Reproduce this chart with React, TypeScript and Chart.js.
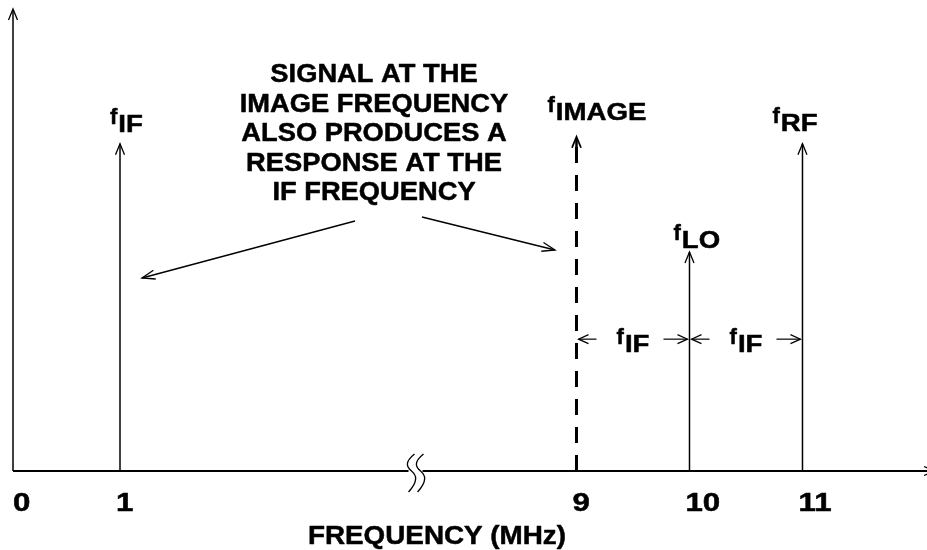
import React, { useEffect, useRef } from "react";
import { Chart, registerables } from "chart.js";
Chart.register(...registerables);

// ---- data ----
const spikeNames = ["IF", "IMAGE", "LO", "RF"];
const spikeFreqs = [1, 9, 10, 11]; // MHz
const spikeHeights = [7.1, 7.25, 4.75, 7.1];
const spikeDashed = [false, true, false, false];
const tickFreqs = [0, 1, 9, 10, 11];
const tickLabels = ["0", "1", "9", "10", "11"];
const noteLines = [
  "SIGNAL AT THE",
  "IMAGE FREQUENCY",
  "ALSO PRODUCES A",
  "RESPONSE AT THE",
  "IF FREQUENCY",
];
const intervalStarts = [9, 10];
const intervalEnds = [10, 11];
const intervalName = "IF";
const xTitle = "FREQUENCY (MHz)";

// ---- broken axis mapping (1..9 MHz compressed) ----
const BREAK_GAP = 3.96;
const axisPos = (f: number) => (f <= 1 ? f : f - BREAK_GAP);

// ---- layout ----
const FONT = '"Liberation Sans", Arial, Helvetica, sans-serif';
const labelDx = [-10, -29, -16, -30];
const labelDy = [-12, -17, -4, -13];
const INTERVAL_Y = 2.86;
const BREAK_AT = 3.58;

function drawText(ctx: CanvasRenderingContext2D, s: string, x: number, y: number, size: number, align: string, sx: number) {
  ctx.save();
  ctx.font = `bold ${size}px ${FONT}`;
  ctx.textBaseline = "alphabetic";
  ctx.textAlign = "left";
  ctx.fillStyle = "#000";
  ctx.strokeStyle = "#000";
  ctx.lineWidth = 0.5;
  ctx.lineJoin = "round";
  const w = ctx.measureText(s).width * sx;
  const x0 = align === "center" ? x - w / 2 : align === "right" ? x - w : x;
  ctx.translate(x0, y);
  ctx.scale(sx, 1);
  ctx.fillText(s, 0, 0);
  ctx.strokeText(s, 0, 0);
  ctx.restore();
  return w;
}

function measure(ctx: CanvasRenderingContext2D, s: string, size: number, sx: number) {
  ctx.save();
  ctx.font = `bold ${size}px ${FONT}`;
  const w = ctx.measureText(s).width * sx;
  ctx.restore();
  return w;
}

function fLabel(ctx: CanvasRenderingContext2D, x: number, y: number, sub: string, align: string) {
  const fw = measure(ctx, "f", 22, 1);
  const sw = measure(ctx, sub, 24, 1.15);
  const total = fw + 1 + sw;
  const x0 = align === "center" ? x - total / 2 : x;
  drawText(ctx, "f", x0, y - 8, 22, "left", 1);
  drawText(ctx, sub, x0 + fw + 1, y, 24, "left", 1.15);
}

function arrowHead(ctx: CanvasRenderingContext2D, tx: number, ty: number, angle: number, len = 10, half = 4.5) {
  const bx = tx - len * Math.cos(angle);
  const by = ty - len * Math.sin(angle);
  const px = -Math.sin(angle) * half;
  const py = Math.cos(angle) * half;
  ctx.beginPath();
  ctx.moveTo(bx + px, by + py);
  ctx.lineTo(tx, ty);
  ctx.lineTo(bx - px, by - py);
  ctx.stroke();
}

function line(ctx: CanvasRenderingContext2D, x1: number, y1: number, x2: number, y2: number) {
  ctx.beginPath();
  ctx.moveTo(x1, y1);
  ctx.lineTo(x2, y2);
  ctx.stroke();
}

const annotPlugin = {
  id: "annot",
  afterDraw(chart: any) {
    const ctx: CanvasRenderingContext2D = chart.ctx;
    const xs = chart.scales.x;
    const ys = chart.scales.y;
    const area = chart.chartArea;
    const X = (f: number) => xs.getPixelForValue(axisPos(f));
    const Y = (v: number) => ys.getPixelForValue(v);
    ctx.save();
    ctx.strokeStyle = "#000";
    ctx.lineCap = "butt";

    // y axis
    ctx.lineWidth = 1.5;
    line(ctx, area.left, area.bottom, area.left, area.top);
    ctx.lineWidth = 1.3;
    arrowHead(ctx, area.left, area.top - 1, -Math.PI / 2, 11, 4.5);

    // x axis with break
    const bx = xs.getPixelForValue(BREAK_AT);
    const by = area.bottom;
    ctx.lineWidth = 2;
    line(ctx, area.left, by, bx - 3, by);
    line(ctx, bx + 11, by, area.right + 10, by);
    ctx.lineWidth = 1.3;
    arrowHead(ctx, area.right + 8, by, 0, 11, 4.5);
    ctx.lineWidth = 1.3;
    for (const off of [0, 9]) {
      const cx = bx + off;
      ctx.beginPath();
      ctx.moveTo(cx + 3, by - 17);
      ctx.bezierCurveTo(cx - 7, by - 9, cx - 5, by - 4, cx, by);
      ctx.bezierCurveTo(cx + 5, by + 4, cx + 7, by + 10, cx - 3, by + 21);
      ctx.stroke();
    }

    // spike arrowheads and labels
    spikeFreqs.forEach((f, i) => {
      const px = X(f);
      const py = Y(spikeHeights[i]);
      ctx.lineWidth = 1.3;
      if (spikeDashed[i]) {
        ctx.lineWidth = 2.5;
        line(ctx, px, py + 2, px, py + 12);
        ctx.lineWidth = 1.8;
      }
      arrowHead(ctx, px, py, -Math.PI / 2, 11, 4.5);
      fLabel(ctx, px + labelDx[i], py + labelDy[i], spikeNames[i], "left");
    });

    // interval arrows
    const iy = Y(INTERVAL_Y);
    intervalStarts.forEach((s, i) => {
      const x1 = X(s);
      const x2 = X(intervalEnds[i]);
      ctx.lineWidth = 1.2;
      line(ctx, x1 + 2, iy, x1 + 20, iy);
      arrowHead(ctx, x1 + 2, iy, Math.PI, 10, 4.5);
      line(ctx, x2 - 26, iy, x2 - 2, iy);
      arrowHead(ctx, x2 - 2, iy, 0, 10, 4.5);
      fLabel(ctx, (x1 + x2) / 2, iy + 13, intervalName, "center");
    });

    // note text
    noteLines.forEach((s, i) => {
      drawText(ctx, s, 374, 82 + i * 29.5, 26, "center", 1.05);
    });
    // note arrows
    ctx.lineWidth = 1.3;
    line(ctx, 355, 221, 142, 278);
    arrowHead(ctx, 142, 278, Math.atan2(278 - 221, 142 - 355), 13, 4.5);
    line(ctx, 422, 217, 555, 250);
    arrowHead(ctx, 555, 250, Math.atan2(250 - 217, 555 - 422), 13, 4.5);

    // tick labels
    tickFreqs.forEach((f, i) => {
      const tx = Math.max(area.left, X(f) - 4);
      drawText(ctx, tickLabels[i], tx, 511, 25, "left", 1.25);
    });
    // axis title
    drawText(ctx, xTitle, 437, 544, 26, "center", 1.07);
    ctx.restore();
  },
};

export default function App() {
  const ref = useRef<HTMLCanvasElement>(null);
  useEffect(() => {
    if (!ref.current) return;
    const datasets = spikeFreqs.map((f, i) => ({
      label: "f" + spikeNames[i],
      data: [
        { x: axisPos(f), y: 0 },
        { x: axisPos(f), y: spikeHeights[i] },
      ],
      showLine: true,
      borderColor: "#000",
      borderWidth: spikeDashed[i] ? 3 : 1.5,
      borderDash: spikeDashed[i] ? [16, 12] : [],
      pointRadius: 0,
      fill: false,
    }));
    const chart = new Chart(ref.current, {
      type: "scatter",
      data: { datasets },
      options: {
        animation: false,
        responsive: false,
        devicePixelRatio: 1,
        layout: { padding: { left: 13, right: 0, top: 10, bottom: 79 } },
        plugins: { legend: { display: false }, tooltip: { enabled: false } },
        scales: {
          x: { type: "linear", min: 0.053, max: 8.142, display: false },
          y: { type: "linear", min: 0, max: 10, display: false },
        },
      },
      plugins: [annotPlugin],
    });
    return () => chart.destroy();
  }, []);
  return (
    <div style={{ position: "fixed", left: 0, top: 0, width: 927, height: 550, background: "#fff" }}>
      <canvas ref={ref} width={927} height={550} />
    </div>
  );
}
